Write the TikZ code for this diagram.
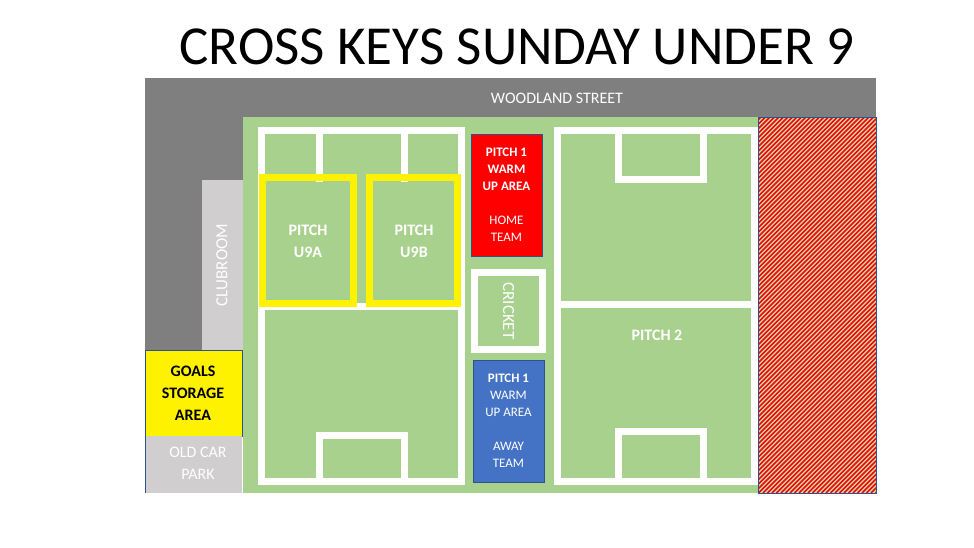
\documentclass[tikz,border=0pt]{standalone}
\usepackage{fontspec}
\setmainfont{Carlito}
\begin{document}
\begin{tikzpicture}[x=1pt,y=-1pt,
  wl/.style={draw=white,line width=7pt},
  yl/.style={draw=yellow,line width=7pt},
  lab/.style={text=white,font=\bfseries\fontsize{13}{17}\selectfont,align=center},
  big/.style={text=white,font=\bfseries\fontsize{16}{22}\selectfont,align=center}]
\definecolor{fld}{HTML}{A9D18E}
\definecolor{dg}{HTML}{7F7F7F}
\definecolor{lg}{HTML}{D0CECE}
\definecolor{bl}{HTML}{4472C4}
\definecolor{bd}{HTML}{2F528F}
\useasboundingbox (0,0) rectangle (974,547);
\fill[white] (0,0) rectangle (974,547);
\node (title) at (517,47) {\fontsize{55}{60}\selectfont CROSS KEYS SUNDAY UNDER 9};
% gray areas
\fill[dg] (145,78) rectangle (876,117);
\fill[dg] (145,78) rectangle (243,350);
\node (street) [text=white,font=\fontsize{16}{18}\selectfont] at (557,98) {WOODLAND STREET};
\fill[lg] (202,180) rectangle (243,350);
\node (club) [text=white,rotate=90,font=\fontsize{17}{18}\selectfont] at (222,265) {CLUBROOM};
\filldraw[fill=yellow,draw=bd,line width=0.5pt] (145,350) rectangle (242,436);
\node (goals) [font=\bfseries\fontsize{16}{22}\selectfont,align=center] at (193,393) {GOALS\\STORAGE\\AREA};
\fill[lg] (145,436) rectangle (242,493);
\draw[bd,line width=0.5pt] (145,436) -- (145,493);
\node (car) [text=white,font=\fontsize{16}{22}\selectfont,align=center] at (198,463) {OLD CAR\\PARK};
% field
\fill[fld] (243,117) rectangle (758,493);
% hatched area
\fill[fld!70!white] (758,117) rectangle (876,493);
\begin{scope}
\clip (758,117) rectangle (876,493);
\foreach \i in {0,4.5,...,560} {\draw[red,line width=1.6pt] (758+\i-400,493) -- (758+\i,93);}
\end{scope}
\draw[bd,line width=0.6pt] (758,117) rectangle (876,493);
% left pitch
\draw[wl] (261.5,130.5) rectangle (461.5,481.5);
\draw[wl] (319.5,130.5) -- (319.5,182);
\draw[wl] (404,130.5) -- (404,182);
\draw[wl] (261.5,306) -- (461.5,306);
\draw[wl] (319.5,484.5) -- (319.5,435.5) -- (404,435.5) -- (404,484.5);
\draw[yl] (262.5,177.5) rectangle (353.5,303.5);
\draw[yl] (369.5,177.5) rectangle (457.5,303.5);
\node (u9a) [big] at (308,241) {PITCH\\U9A};
\node (u9b) [big] at (414,241) {PITCH\\U9B};
% middle
\filldraw[fill=red,draw=bd,line width=0.6pt] (471,134) rectangle (542,256);
\node (home) [lab] at (506.5,195) {PITCH 1\\WARM\\UP AREA\\[17pt]\mdseries HOME\\\mdseries TEAM};
\draw[wl] (474.5,272.5) rectangle (542.5,349.5);
\node (cricket) [text=white,rotate=-90,font=\fontsize{17}{18}\selectfont] at (508.5,311) {CRICKET};
\filldraw[fill=bl,draw=bd,line width=0.6pt] (473,360) rectangle (544,482);
\node (away) [lab] at (508.5,421) {PITCH 1\\\mdseries WARM\\\mdseries UP AREA\\[17pt]\mdseries AWAY\\\mdseries TEAM};
% right pitch
\draw[wl] (557.5,130.5) rectangle (754.5,481.5);
\draw[wl] (557.5,304.5) -- (754.5,304.5);
\draw[wl] (618.5,130.5) -- (618.5,179.5) -- (703.5,179.5) -- (703.5,130.5);
\draw[wl] (618.5,481.5) -- (618.5,431.5) -- (703.5,431.5) -- (703.5,481.5);
\node (p2) [big] at (657,335) {PITCH 2};
\end{tikzpicture}
\end{document}
